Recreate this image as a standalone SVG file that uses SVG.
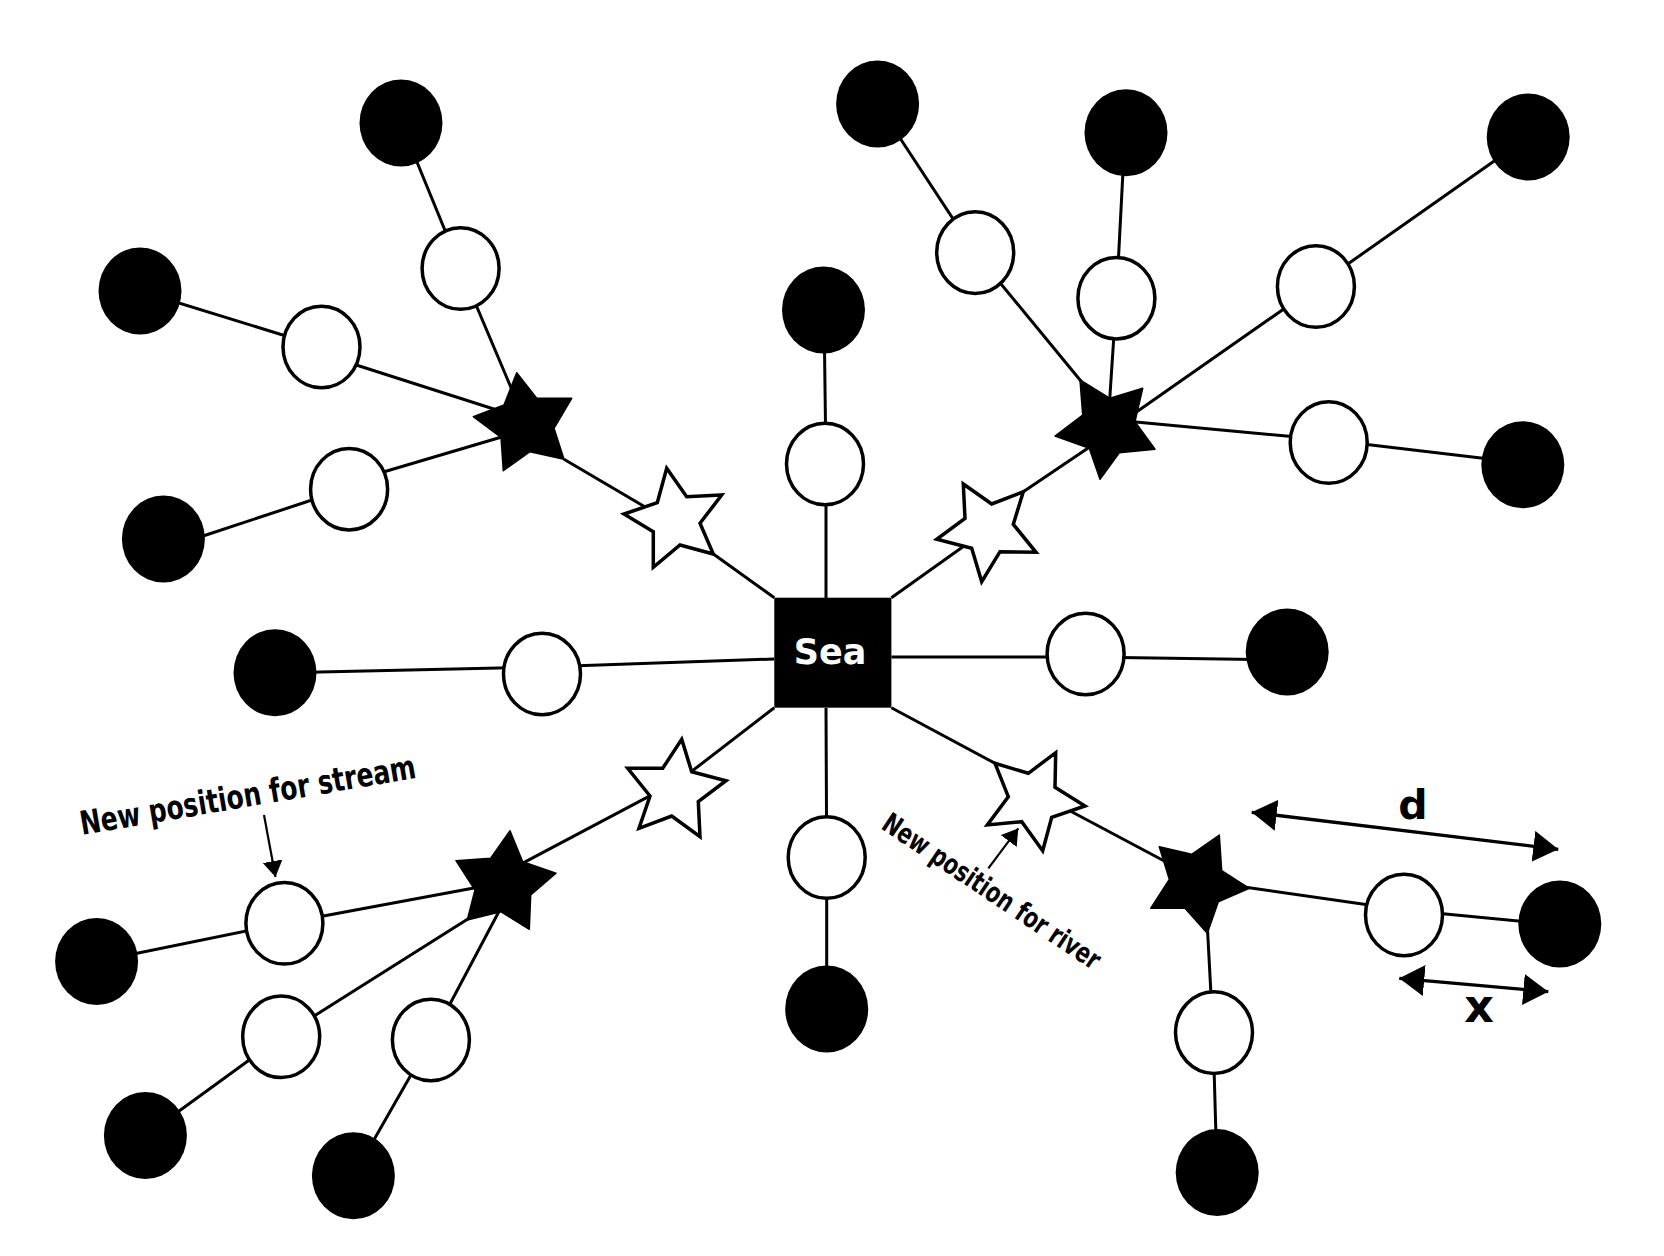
<svg xmlns="http://www.w3.org/2000/svg" width="1664" height="1256" viewBox="0 0 1664 1256">
<style>
.ln{stroke:#000;stroke-width:3;fill:none}
.w{fill:#fff;stroke:#000;stroke-width:3.5}
.b{fill:#000}
.ws{fill:#fff;stroke:#000;stroke-width:3.5;stroke-linejoin:miter}
.bs{fill:#000;stroke:#000;stroke-width:1.5;stroke-linejoin:round}
.note{font-family:"DejaVu Sans Condensed","DejaVu Sans",sans-serif;font-stretch:condensed;font-weight:bold;fill:#000}
.lbl{font-family:"DejaVu Sans",sans-serif;font-weight:bold;fill:#000}
</style>
<defs>
<marker id="big" markerUnits="userSpaceOnUse" markerWidth="26" markerHeight="32" refX="25" refY="15.5" orient="auto-start-reverse">
<path d="M0,0 L25,15.5 L0,31 z" fill="#000"/>
</marker>
<marker id="small" markerUnits="userSpaceOnUse" markerWidth="17" markerHeight="21" refX="16" refY="10" orient="auto">
<path d="M0,0 L16,10 L0,20 z" fill="#000"/>
</marker>
</defs>
<rect width="1664" height="1256" fill="#fff"/>
<g id="connectors" class="ln">
<polyline points="401,123 460.6,268.5 512,390"/>
<polyline points="140,291 321.5,347"/>
<line x1="350" y1="363" x2="500" y2="411"/>
<line x1="200" y1="537" x2="315" y2="499"/>
<line x1="380" y1="473" x2="505" y2="436"/>
<line x1="564" y1="459.3" x2="652" y2="511"/>
<line x1="705" y1="548" x2="774.3" y2="597.7"/>
<line x1="891.4" y1="597.7" x2="970" y2="541.7"/>
<line x1="1023.3" y1="491.7" x2="1100" y2="440"/>
<polyline points="1085,386 975.2,252.6 877.6,104"/>
<polyline points="1109,410 1116.4,298.2 1125,132.7"/>
<polyline points="1125,420 1315.9,286.5 1528.2,137"/>
<polyline points="1125,421 1329,440 1523,463"/>
<polyline points="826,598 826,464 824,310"/>
<polyline points="826,708 826.7,857.5 826.7,1009"/>
<polyline points="774.3,659 542,667 275,673"/>
<polyline points="891.4,657 1085.6,657 1287,660"/>
<line x1="774.3" y1="707.7" x2="685" y2="776.5"/>
<line x1="656" y1="792.7" x2="510" y2="869.8"/>
<polyline points="490,885 284.4,923.3 96.6,961.5"/>
<polyline points="490,905 281.2,1036.8 145.4,1135.5"/>
<polyline points="505,900 430.9,1040 353.4,1175.8"/>
<line x1="891.4" y1="707.7" x2="1003" y2="767.6"/>
<line x1="1066" y1="808.7" x2="1200" y2="880"/>
<polyline points="1230,885 1404,910 1560,925"/>
<polyline points="1207,920 1213,1032 1217,1172"/>
<line x1="1251.7" y1="812.3" x2="1558.3" y2="849.3" stroke-width="3.3" marker-start="url(#big)" marker-end="url(#big)"/>
<line x1="1399.3" y1="978.3" x2="1548.3" y2="991.7" stroke-width="3.3" marker-start="url(#big)" marker-end="url(#big)"/>
<line x1="264" y1="815" x2="275.5" y2="877" stroke-width="2.2" marker-end="url(#small)"/>
<line x1="988.3" y1="868.3" x2="1018.3" y2="828.3" stroke-width="2.2" marker-end="url(#small)"/>
</g>
<g id="sea">
<rect x="774.3" y="597.7" width="117.1" height="110" fill="#000"/>
<text x="830" y="664" text-anchor="middle" font-family="DejaVu Sans, sans-serif" font-weight="bold" font-size="35" fill="#fff">Sea</text>
</g>
<g id="stars">
<polygon id="s1" class="bs" points="516.7,372.7 536.7,398.3 571.7,398.3 554,428.3 564,459.3 530,451.7 503.3,470.7 501,437.3 473.3,416.7 504,405"/>
<polygon id="w1" class="ws" points="666.7,468.3 686.7,496.7 721.7,495 700,523.3 713.3,554 680,545 653.3,567.3 653.3,531.7 624,514 657.3,502.7"/>
<polygon id="s2" class="bs" points="1080,380 1110,398.3 1142.7,388.3 1135,421.7 1155,449.3 1119.3,452.7 1100,479.3 1089.3,448.3 1055,436 1082.7,415"/>
<polygon id="w2" class="ws" points="963.3,484 991.7,504 1023.3,491.7 1013.3,524.3 1036,552.3 1000,551.7 981.7,581.7 971.7,548.3 936.7,539.3 965,518.3"/>
<polygon id="w3" class="ws" points="681.7,739.3 691.7,771.7 726,780.7 698.3,801.7 700,836.7 671.7,816 639,828.3 650,796 627.7,768.3 662.7,768.3"/>
<polygon id="s3" class="bs" points="510,830.7 522.7,861.7 556,873.3 530.7,895 529.3,929.3 500.7,911.7 467.3,920 475,890 456,860.7 490.7,858.3"/>
<polygon id="w4" class="ws" points="1055.7,752.7 1055,787.3 1085,806 1051.7,817.3 1042.7,850.7 1021.7,821.7 987.3,825 1008.3,796.7 995,763.3 1028.3,773.3"/>
<polygon id="s4" class="bs" points="1219.3,835 1221.7,870.7 1249.3,888.3 1218.3,901.7 1207.3,933.3 1185,908.3 1150.7,908.3 1169.3,879.3 1159.3,846.7 1191.7,854.3"/>
</g>
<g id="white-nodes">
<ellipse id="wn1" class="w" cx="460.6" cy="268.5" rx="38.5" ry="40.8"/>
<ellipse id="wn2" class="w" cx="321.5" cy="347" rx="38.5" ry="40.8"/>
<ellipse id="wn3" class="w" cx="349.1" cy="489.2" rx="38.5" ry="40.8"/>
<ellipse id="wn4" class="w" cx="975.2" cy="252.6" rx="38.5" ry="40.8"/>
<ellipse id="wn5" class="w" cx="1116.4" cy="298.2" rx="38.5" ry="40.8"/>
<ellipse id="wn6" class="w" cx="1315.9" cy="286.5" rx="38.5" ry="40.8"/>
<ellipse id="wn7" class="w" cx="1328.7" cy="442.5" rx="38.5" ry="40.8"/>
<ellipse id="wn8" class="w" cx="825" cy="464" rx="38.5" ry="40.8"/>
<ellipse id="wn9" class="w" cx="542" cy="674" rx="38.5" ry="40.8"/>
<ellipse id="wn10" class="w" cx="1085.6" cy="654" rx="38.5" ry="40.8"/>
<ellipse id="wn11" class="w" cx="826.7" cy="857.5" rx="38.5" ry="40.8"/>
<ellipse id="wn12" class="w" cx="284.4" cy="923.3" rx="38.5" ry="40.8"/>
<ellipse id="wn13" class="w" cx="281.2" cy="1036.8" rx="38.5" ry="40.8"/>
<ellipse id="wn14" class="w" cx="430.9" cy="1040" rx="38.5" ry="40.8"/>
<ellipse id="wn15" class="w" cx="1404" cy="915" rx="38.5" ry="40.8"/>
<ellipse id="wn16" class="w" cx="1214" cy="1032.6" rx="38.5" ry="40.8"/>
</g>
<g id="black-nodes">
<ellipse id="bn1" class="b" cx="401" cy="123" rx="41.5" ry="43.5"/>
<ellipse id="bn2" class="b" cx="140" cy="291" rx="41.5" ry="43.5"/>
<ellipse id="bn3" class="b" cx="163.4" cy="539" rx="41.5" ry="43.5"/>
<ellipse id="bn4" class="b" cx="877.6" cy="104" rx="41.5" ry="43.5"/>
<ellipse id="bn5" class="b" cx="1126" cy="132.7" rx="41.5" ry="43.5"/>
<ellipse id="bn6" class="b" cx="1528.2" cy="137" rx="41.5" ry="43.5"/>
<ellipse id="bn7" class="b" cx="1522.8" cy="464.8" rx="41.5" ry="43.5"/>
<ellipse id="bn8" class="b" cx="823.5" cy="310" rx="41.5" ry="43.5"/>
<ellipse id="bn9" class="b" cx="275" cy="672.8" rx="41.5" ry="43.5"/>
<ellipse id="bn10" class="b" cx="1287.2" cy="652" rx="41.5" ry="43.5"/>
<ellipse id="bn11" class="b" cx="826.7" cy="1009" rx="41.5" ry="43.5"/>
<ellipse id="bn12" class="b" cx="96.6" cy="961.5" rx="41.5" ry="43.5"/>
<ellipse id="bn13" class="b" cx="145.4" cy="1135.5" rx="41.5" ry="43.5"/>
<ellipse id="bn14" class="b" cx="353.4" cy="1175.8" rx="41.5" ry="43.5"/>
<ellipse id="bn15" class="b" cx="1559.8" cy="924" rx="41.5" ry="43.5"/>
<ellipse id="bn16" class="b" cx="1217.2" cy="1172.6" rx="41.5" ry="43.5"/>
</g>
<g id="labels">
<text class="note" font-size="33" transform="translate(82,835) rotate(-9.7)" textLength="340" lengthAdjust="spacingAndGlyphs">New position for stream</text>
<text class="note" font-size="28" transform="translate(880,828) rotate(33.8)" textLength="256" lengthAdjust="spacingAndGlyphs">New position for river</text>
<text class="lbl" font-size="41" x="1413" y="819" text-anchor="middle">d</text>
<text class="lbl" font-size="46" x="1479" y="1022" text-anchor="middle">x</text>
</g>
</svg>
